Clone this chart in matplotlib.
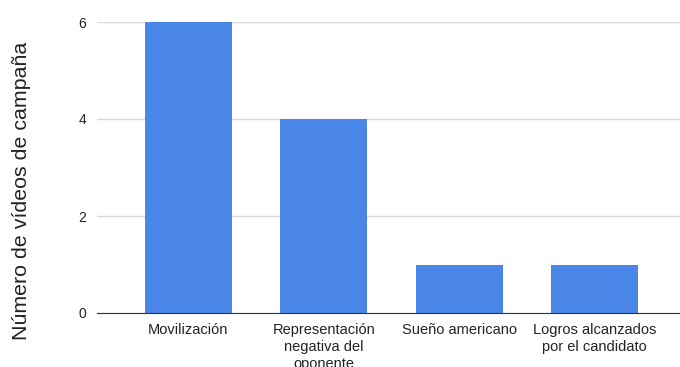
import matplotlib
matplotlib.use('Agg')
import matplotlib.pyplot as plt

categorias = ["Movilización", "Representación\nnegativa del\noponente",
              "Sueño americano", "Logros alcanzados\npor el candidato"]
videos = [6, 4, 1, 1]
yticks = [0, 2, 4, 6]

plt.rcParams['font.family'] = ['Liberation Sans', 'DejaVu Sans']

fig = plt.figure(figsize=(6.8, 3.67), dpi=100)
ax = fig.add_axes([97/680, 54/367, 583/680, 291/367])

x = list(range(len(categorias)))
ax.bar(x, videos, width=0.64, color='#4a86e8', zorder=3)

ax.set_xlim(-0.675, 3.63)
ax.set_ylim(0, 6)
ax.set_yticks(yticks)
ax.set_xticks(x)
ax.set_xticklabels(categorias, fontsize=10.5, color='#222222', linespacing=1.3)
ax.tick_params(axis='y', labelsize=10, labelcolor='#222222', length=0, pad=8)
ax.tick_params(axis='x', length=0, pad=7)
ax.grid(axis='y', color='#d9d9d9', linewidth=1, zorder=0)

for s in ['top', 'right', 'left']:
    ax.spines[s].set_visible(False)
ax.spines['bottom'].set_color('#333333')
ax.spines['bottom'].set_zorder(4)

fig.text(22/680, 176/367, "Número de vídeos de campaña", rotation=90,
         fontsize=15.4, color='#222222', ha='center', va='center')

fig.savefig('out.png', dpi=100)
